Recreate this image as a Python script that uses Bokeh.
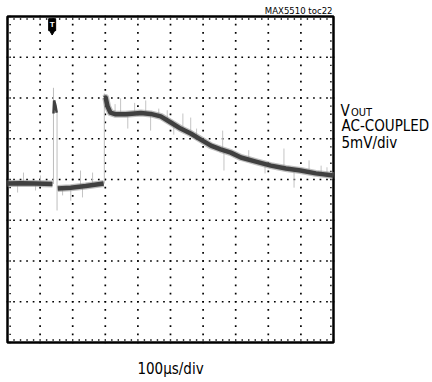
from bokeh.plotting import figure
from bokeh.embed import file_html
from bokeh.resources import INLINE
from bokeh.core.properties import value

# ---- data (oscilloscope divisions: x 0..10, y -4..4) ----
seg1_x = [0.0, 0.40, 0.86, 1.38]
seg1_y = [-0.10, -0.09, -0.10, -0.11]
glitch_x = [1.41, 1.43, 1.47, 1.51]
glitch_y = [1.62, 1.94, 1.82, 1.64]
seg2_x = [1.54, 1.94, 2.40, 2.95]
seg2_y = [-0.22, -0.20, -0.16, -0.10]
seg3_x = [2.98, 3.01, 3.07, 3.16, 3.32, 3.63, 4.09, 4.39, 4.70, 5.01, 5.31, 5.62,
          5.93, 6.24, 6.54, 6.85, 7.16, 7.62, 8.08, 8.54, 8.99, 9.46, 10.0]
seg3_y = [1.99, 2.01, 1.79, 1.64, 1.60, 1.60, 1.63, 1.61, 1.55, 1.40, 1.25, 1.13,
          0.98, 0.83, 0.74, 0.66, 0.54, 0.44, 0.34, 0.27, 0.22, 0.15, 0.10]

# light grey transients / noise spikes
spike_x = [0.31, 0.49, 0.86, 1.01, 1.69, 1.94, 2.24, 2.30, 2.61, 3.47, 3.69, 4.24,
           4.39, 4.64, 5.38, 5.62, 6.60, 6.64, 8.48, 8.79, 9.25, 9.62,
           3.30, 3.90, 4.90, 5.10, 5.80, 7.40, 7.90, 9.80]
spike_y0 = [-0.10, -0.10, -0.10, -0.10, -0.20, -0.20, -0.18, -0.17, -0.14, 1.60, 1.60, 1.63,
            1.62, 1.60, 1.25, 1.13, 0.74, 0.72, 0.30, 0.26, 0.20, 0.14,
            1.60, 1.62, 1.48, 1.35, 1.03, 0.50, 0.38, 0.12]
spike_y1 = [-0.32, 0.17, -0.27, 0.10, -0.39, -0.52, 0.22, -0.44, 0.17, 1.99, 1.25, 1.94,
            1.20, 1.74, 1.62, 1.52, 1.20, 0.22, 0.76, -0.20, 0.47, 0.34,
            1.85, 1.88, 1.70, 1.10, 1.25, 0.72, 0.15, 0.30]
edge_x = [1.41, 1.52, 2.97]
edge_y0 = [-0.11, 1.64, -0.10]
edge_y1 = [2.25, -0.76, 2.11]

trig_x = 1.37
x_major = [1, 2, 3, 4, 5, 6, 7, 8, 9]
y_major = [-3, -2, -1, 0, 1, 2, 3]
x_edge = [0.08, 9.92]
y_edge = [-3.94, 3.94]
x_minor = [i * 0.2 for i in range(0, 51)]
y_minor = [-4 + i * 0.2 for i in range(0, 41)]

FONT = "'Liberation Sans Narrow', 'Arial Narrow', 'DejaVu Sans Condensed', sans-serif"

# pixel scale: 32.6 px per x-division, 40.75 px per y-division; box at px (7,16)-(333,342)
XS, YS = 32.6, 40.75
def dx(px):
    return (px - 7) / XS

def dy(py):
    return (179 - py) / YS

p = figure(width=432, height=382, x_range=(dx(0), dx(432)), y_range=(dy(382), dy(0)),
           output_backend="svg", toolbar_location=None,
           x_axis_location=None, y_axis_location=None,
           min_border_left=0, min_border_right=0, min_border_top=0, min_border_bottom=0)
p.background_fill_color = "white"
p.border_fill_color = "white"
p.outline_line_color = None
p.xgrid.visible = False
p.ygrid.visible = False

# dotted graticule (dots every 0.2 division)
gx, gy = [], []
for xm in x_major:
    for ym in y_minor:
        gx.append(xm); gy.append(ym)
for ym in y_major:
    for xm in x_minor:
        gx.append(xm); gy.append(ym)
p.scatter(gx, gy, marker="square", size=1.7, fill_color="black", line_color=None)
ex, ey = [], []
for xm in x_edge:
    for ym in y_minor:
        ex.append(xm); ey.append(ym)
for ym in y_edge:
    for xm in x_minor:
        ex.append(xm); ey.append(ym)
p.scatter(ex, ey, marker="square", size=1.4, fill_color="black", line_color=None)

# screen box
p.quad(left=[0], right=[10], bottom=[-4], top=[4], fill_color=None, line_color="black",
       line_width=2.5)

# transients and spikes
p.segment(x0=edge_x, y0=edge_y0, x1=edge_x, y1=edge_y1, line_color="#bdbdbd", line_width=1)
p.segment(x0=spike_x, y0=spike_y0, x1=spike_x, y1=spike_y1, line_color="#c4c4c4", line_width=1)

# trace band (fuzzy halo + dark core)
for xs, ys in [(seg1_x, seg1_y), (seg2_x, seg2_y), (seg3_x, seg3_y)]:
    p.line(xs, ys, line_color="#8a8a8a", line_width=7, line_alpha=0.55, line_join="round")
    p.line(xs, ys, line_color="#404040", line_width=4.5, line_join="round")
p.line(glitch_x, glitch_y, line_color="#404040", line_width=2.5)

# trigger marker
p.rect(x=[trig_x], y=[3.80], width=7, height=12, width_units="screen", height_units="screen",
       fill_color="black", line_color="black")
p.scatter(x=[trig_x], y=[3.63], marker="inverted_triangle", size=6, fill_color="black",
          line_color="black")
p.text(x=[trig_x], y=[3.80], text=["T"], text_color="white", text_font=value("Liberation Sans"),
       text_font_size="8px", text_font_style="bold", text_align="center", text_baseline="middle")

labels = [
    ("MAX5510 toc22", 332, 9.5, "9.5px", "right"),
    ("V", 340, 110, "15px", "left"),
    ("OUT", 350.5, 112, "11px", "left"),
    ("AC-COUPLED", 341, 125.5, "15px", "left"),
    ("5mV/div", 341, 142.5, "15px", "left"),
    ("100\u00b5s/div", 170, 368.5, "15px", "center"),
]
for txt, px, py, fs, al in labels:
    p.text(x=[dx(px)], y=[dy(py)], text=[txt], text_font=value(FONT), text_font_size=fs,
           text_align=al, text_baseline="alphabetic", text_color="black")

open("out.html", "w").write(file_html(p, INLINE))
